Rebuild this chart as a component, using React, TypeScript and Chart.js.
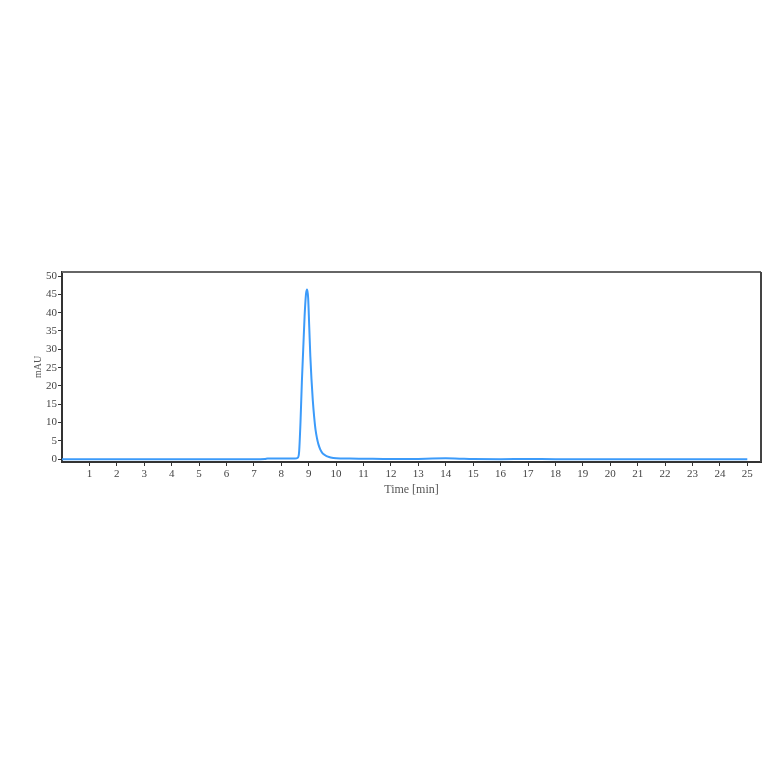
import React, { useEffect, useRef } from "react";
import { Chart, registerables } from "chart.js";

Chart.register(...registerables);

const times: number[] = [
  0, 1, 2, 3, 4, 5, 6, 7, 7.4, 7.5, 8.0, 8.5, 8.6, 8.65, 8.7, 8.75, 8.8, 8.85, 8.9, 8.94,
  8.98, 9.02, 9.06, 9.1, 9.15, 9.2, 9.25, 9.3, 9.35, 9.42, 9.5, 9.6, 9.7, 9.8, 10, 10.5,
  11, 12, 13, 13.5, 14, 14.5, 15, 16, 17, 18, 19, 20, 21, 22, 23, 24, 25,
];
const mAU: number[] = [
  0, 0, 0, 0, 0, 0, 0, 0, 0.05, 0.2, 0.2, 0.2, 0.4, 2, 10, 21, 30, 39, 45, 46.3,
  44, 36, 28, 22, 16, 11.5, 8, 5.8, 4.2, 2.7, 1.7, 1.1, 0.7, 0.5, 0.3, 0.2,
  0.15, 0.05, 0.1, 0.2, 0.25, 0.15, 0.05, 0.02, 0.05, 0.02, 0.02, 0.02, 0.02, 0.02, 0.02, 0.02, 0.02,
];
const xTicks: number[] = Array.from({ length: 25 }, (_, i) => i + 1);
const yTicks: number[] = [0, 5, 10, 15, 20, 25, 30, 35, 40, 45, 50];

const FONT = "'Liberation Serif', 'DejaVu Serif', serif";

export default function App() {
  const ref = useRef<HTMLCanvasElement>(null);
  useEffect(() => {
    if (!ref.current) return;
    const framePlugin = {
      id: "frame",
      afterDraw(chart: any) {
        const { ctx, chartArea } = chart;
        ctx.save();
        ctx.strokeStyle = "#666";
        ctx.lineWidth = 2;
        ctx.beginPath();
        ctx.moveTo(chartArea.left, chartArea.top);
        ctx.lineTo(chartArea.right, chartArea.top);
        ctx.stroke();
        ctx.strokeStyle = "#444";
        ctx.beginPath();
        ctx.moveTo(chartArea.right, chartArea.top);
        ctx.lineTo(chartArea.right, chartArea.bottom);
        ctx.stroke();
        ctx.restore();
      },
    };
    const chart = new Chart(ref.current, {
      type: "line",
      data: {
        datasets: [
          {
            data: times.map((t, i) => ({ x: t, y: mAU[i] })),
            borderColor: "rgb(60,155,250)",
            borderWidth: 2,
            pointRadius: 0,
            fill: false,
            cubicInterpolationMode: "monotone",
          },
        ],
      },
      options: {
        animation: false,
        responsive: false,
        maintainAspectRatio: false,
        layout: { padding: { left: 0, right: 3, top: 272, bottom: 262 } },
        plugins: { legend: { display: false }, tooltip: { enabled: false } },
        scales: {
          x: {
            type: "linear",
            min: 0,
            max: 25.5,
            afterBuildTicks: (s: any) => {
              s.ticks = xTicks.map((v) => ({ value: v }));
            },
            afterFit: (s: any) => {
              s.height = 40;
            },
            ticks: {
              font: { family: FONT, size: 11 },
              color: "#444",
              padding: 2,
              maxRotation: 0,
              autoSkip: false,
            },
            grid: { drawOnChartArea: false, tickLength: 4, color: "#333", lineWidth: 1 },
            border: { color: "#333", width: 2 },
            title: {
              display: true,
              text: "Time [min]",
              font: { family: FONT, size: 12 },
              color: "#555",
              padding: { top: 0, bottom: 5 },
            },
          },
          y: {
            min: -0.75,
            max: 51.1,
            afterBuildTicks: (s: any) => {
              s.ticks = yTicks.map((v) => ({ value: v }));
            },
            afterFit: (s: any) => {
              s.width = 62;
            },
            ticks: {
              font: { family: FONT, size: 11 },
              color: "#444",
              padding: 1,
            },
            grid: { drawOnChartArea: false, tickLength: 4, color: "#333", lineWidth: 1 },
            border: { color: "#333", width: 2 },
            title: {
              display: true,
              text: "mAU",
              font: { family: FONT, size: 10 },
              color: "#555",
              padding: { top: 32, bottom: 0 },
            },
          },
        },
      },
      plugins: [framePlugin],
    });
    return () => chart.destroy();
  }, []);
  return (
    <div style={{ position: "absolute", left: 0, top: 0, width: 764, height: 764, background: "#fff" }}>
      <canvas ref={ref} width={764} height={764} style={{ width: 764, height: 764 }} />
    </div>
  );
}
